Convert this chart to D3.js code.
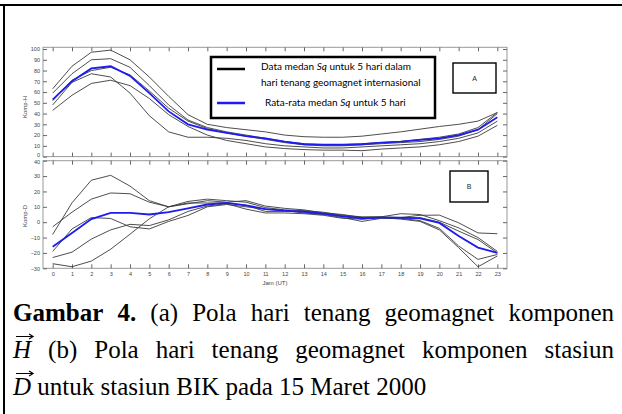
<!DOCTYPE html>
<html>
<head>
<meta charset="utf-8">
<script src="https://cdn.jsdelivr.net/npm/d3@7"></script>
<style>
body { margin: 0; background: #fff; }
svg { display: block; }
.tick text { font-family: "Liberation Sans", Arial, sans-serif; font-size: 5.5px; fill: #444; }
.tick line { stroke: #666; }
.domain { display: none; }
</style>
</head>
<body>
<svg width="622" height="414"></svg>
<script>
// hours (UT)
const hours = [0, 1, 2, 3, 4, 5, 6, 7, 8, 9, 10, 11, 12, 13, 14, 15, 16, 17, 18, 19, 20, 21, 22, 23];

const hTicks = [0, 10, 20, 30, 40, 50, 60, 70, 80, 90, 100],
      dTicks = [-30, -20, -10, 0, 10, 20, 30, 40];

// komponen H, 5 hari tenang + rata-rata
const hDay1 = [63, 84, 97, 99, 90, 74, 56, 39, 30, 27, 25, 23, 20, 18.5, 18, 18, 19, 21, 23, 25.5, 28, 30, 33, 41];
const hDay2 = [59, 77, 90, 91, 83, 66, 48, 34, 27, 23, 20, 17, 14, 12, 11, 11, 12, 13, 14, 16, 18, 21, 27, 41];
const hDay3 = [52, 71, 80, 83, 76, 61, 45, 33, 26, 22, 19, 16, 13, 11, 10, 10, 11, 12, 13, 14, 16, 19, 25, 40];
const hDay4 = [48, 69, 77, 74, 59, 38, 23, 18, 18, 17, 15, 12, 10, 9, 8, 8, 9, 10, 11, 12, 14, 17, 22, 33];
const hDay5 = [43, 57, 68, 71, 66, 54, 39, 28, 20, 15, 12, 9, 7.5, 6.5, 6, 6, 5.5, 7, 8, 9, 11, 14, 19, 29];
const hMean = [53, 70, 82, 84, 75, 59, 42, 30, 25, 22, 19, 17, 14, 11.5, 11, 11, 11.5, 13, 14, 15.5, 17, 20, 25, 36.5];

// komponen D
const dDay1 = [-8, 12.6, 27.3, 30.5, 23.5, 14, 10, 12, 14, 13, 14, 10.5, 9, 8, 6, 5, 3, 3.5, 5.5, 5, 1, -3.7, -10, -19];
const dDay2 = [-3, 6.5, 15, 19, 18.5, 13, 10, 13.5, 15, 14, 13, 9.5, 8, 7.5, 6.5, 4.5, 3.5, 3.5, 3, 4.5, 4.6, -0.4, -7, -7.5];
const dDay3 = [-19, -4.4, 3, 2.4, -3, -4.4, 0.5, 4.4, 10, 11.5, 10, 8.5, 7.5, 6, 5, 3, 0.5, 2.5, 2.5, 3, 0, -5.8, -11.3, -20];
const dDay4 = [-23, -19.5, -11, -5, -1.4, -2.2, 1.5, 7, 10.5, 12, 8.5, 6, 6, 5.5, 4.5, 2.5, 2, 3, 2.5, 1, -4, -15.5, -24.2, -21];
const dDay5 = [-27, -29, -25.3, -17.6, -7.8, 2.2, 10, 12.5, 12.5, 12.5, 11, 7, 7, 7, 5.5, 4, 3, 3, 2, 0.5, -5, -16.6, -29, -22];
const dMean = [-16, -7, 2, 6, 6, 5, 6.5, 9, 11.5, 12.5, 11, 8.5, 7.5, 6.8, 5.5, 3.8, 2.4, 3, 3, 2.5, -0.5, -9, -16.5, -20];

const cap1 = ['Gambar', '4.', '(a)', 'Pola', 'hari', 'tenang', 'geomagnet', 'komponen'],
      cap2 = ['H', '(b)', 'Pola', 'hari', 'tenang', 'geomagnet', 'komponen', 'stasiun'],
      cap3 = ['D', 'untuk', 'stasiun', 'BIK', 'pada', '15', 'Maret', '2000'];

const left = 43, right = 507;

let svg = d3.select("svg");

// page border (top + left)
svg.append("line").attr("x1", 0).attr("x2", 622).attr("y1", 5).attr("y2", 5)
   .attr("stroke", "#000").attr("stroke-width", 2);
svg.append("line").attr("x1", 4).attr("x2", 4).attr("y1", 4).attr("y2", 414)
   .attr("stroke", "#000").attr("stroke-width", 2);

let x = d3.scaleLinear().domain([-0.5, 23.5]).range([left, right]);
let yH = d3.scaleLinear().domain([0, 101.6]).range([156.6, 47.3]);
let yD = d3.scaleLinear().domain([-30, 40]).range([268.3, 160.7]);

const panel = (y, ticks, showX, series, mean, label, labelY, nudge) => {
  let [y0, y1] = y.range();
  let g = svg.append("g");

  g.append("rect")
    .attr("x", left).attr("y", y1)
    .attr("width", right - left).attr("height", y0 - y1)
    .attr("fill", "none").attr("stroke", "#999").attr("stroke-width", 1);

  g.append("g").attr("transform", `translate(${left},0)`)
    .call(d3.axisLeft(y).tickValues(ticks).tickSize(-4).tickPadding(3))
    .selectAll(".tick text")
    .attr("y", d => nudge[d] || 0);
  g.append("g").attr("transform", `translate(${right},0)`)
    .call(d3.axisRight(y).tickValues(ticks).tickSize(-4).tickFormat(""));
  g.append("g").attr("transform", `translate(0,${y1})`)
    .call(d3.axisTop(x).tickValues(hours).tickSize(-4).tickFormat(""));
  g.append("g").attr("transform", `translate(0,${y0})`)
    .call(d3.axisBottom(x).tickValues(hours).tickSize(-4).tickPadding(4)
      .tickFormat(showX ? d3.format("d") : ""));

  g.append("text")
    .attr("transform", `translate(27,${labelY}) rotate(-90)`)
    .attr("text-anchor", "middle")
    .attr("font-family", "Liberation Sans, Arial, sans-serif")
    .attr("font-size", 6).attr("fill", "#444")
    .text(label);

  let line = d3.line().x((d, i) => x(hours[i])).y(d => y(d));

  g.selectAll("path.day").data(series).enter().append("path")
    .attr("class", "day")
    .attr("d", line)
    .attr("fill", "none").attr("stroke", "#3a3a3a").attr("stroke-width", 0.9);

  g.append("path")
    .attr("d", line(mean))
    .attr("fill", "none").attr("stroke", "#1c1cf0").attr("stroke-width", 1.8);
  return g;
};

panel(yH, hTicks, false, [hDay1, hDay2, hDay3, hDay4, hDay5], hMean, "Komp-H", 107, {0: -1.5});
panel(yD, dTicks, true, [dDay1, dDay2, dDay3, dDay4, dDay5], dMean, "Komp-D", 216, {40: 1.5});

svg.append("text")
  .attr("x", 275).attr("y", 285)
  .attr("text-anchor", "middle")
  .attr("font-family", "Liberation Sans, Arial, sans-serif")
  .attr("font-size", 6).attr("fill", "#444")
  .text("Jam (UT)");

// legend
let legend = svg.append("g");
legend.append("rect")
  .attr("x", 211).attr("y", 57).attr("width", 224).attr("height", 61)
  .attr("fill", "#fff").attr("stroke", "#000").attr("stroke-width", 2.5);
legend.append("line").attr("x1", 217).attr("x2", 245).attr("y1", 69).attr("y2", 69)
  .attr("stroke", "#000").attr("stroke-width", 2.5);
legend.append("line").attr("x1", 217).attr("x2", 245).attr("y1", 103).attr("y2", 103)
  .attr("stroke", "#1c1cf0").attr("stroke-width", 2.5);

const legText = (tx, ty, parts) => {
  let t = legend.append("text")
    .attr("x", tx).attr("y", ty)
    .attr("font-family", "Lato, 'Open Sans', sans-serif")
    .attr("font-size", 10).attr("fill", "#000");
  parts.forEach(p => {
    t.append("tspan").attr("font-style", p[1] ? "italic" : "normal").text(p[0]);
  });
};
legText(261, 70, [["Data medan ", 0], ["Sq", 1], [" untuk 5 hari dalam", 0]]);
legText(261, 86, [["hari tenang geomagnet internasional", 0]]);
legText(265, 106, [["Rata-rata medan ", 0], ["Sq", 1], [" untuk 5 hari", 0]]);

// panel tags
const tag = (bx, by, bw, bh, s) => {
  svg.append("rect").attr("x", bx).attr("y", by).attr("width", bw).attr("height", bh)
    .attr("fill", "#fff").attr("stroke", "#000").attr("stroke-width", 1.4);
  svg.append("text").attr("x", bx + bw / 2).attr("y", by + bh / 2 + 2.5)
    .attr("text-anchor", "middle")
    .attr("font-family", "Liberation Sans, Arial, sans-serif")
    .attr("font-size", 7).attr("fill", "#222")
    .text(s);
};
tag(453, 63, 43, 30, "A");
tag(450, 171, 38, 31, "B");

// caption
const fs = 25, capLeft = 13, capRight = 614;

const captionLine = (words, base, justify, styleOf) => {
  let g = svg.append("g");
  let nodes = words.map((w, i) => {
    let st = styleOf(i);
    return g.append("text")
      .attr("y", base)
      .attr("font-family", "'Liberation Serif', 'Times New Roman', serif")
      .attr("font-size", fs)
      .attr("font-weight", st === 'b' ? "bold" : "normal")
      .attr("font-style", st === 'v' ? "italic" : "normal")
      .attr("fill", "#000")
      .text(w);
  });
  let widths = nodes.map(n => n.node().getComputedTextLength());
  let total = d3.sum(widths);
  let gap = justify ? (capRight - capLeft - total) / (words.length - 1) : fs * 0.25;
  let cx = capLeft;
  nodes.forEach((n, i) => {
    n.attr("x", cx);
    if (styleOf(i) === 'v') {
      // vector arrow above the letter
      let ax0 = cx + 3, ax1 = cx + widths[i] + 2, ay = base - fs * 0.86;
      g.append("path")
        .attr("d", `M${ax0},${ay}L${ax1},${ay}M${ax1 - 4},${ay - 2.5}L${ax1},${ay}L${ax1 - 4},${ay + 2.5}`)
        .attr("fill", "none").attr("stroke", "#000").attr("stroke-width", 1.2);
    }
    cx += widths[i] + gap;
  });
};

captionLine(cap1, 321, true, i => i < 2 ? 'b' : '');
captionLine(cap2, 358, true, i => i === 0 ? 'v' : '');
captionLine(cap3, 395, false, i => i === 0 ? 'v' : '');
</script>
</body>
</html>
